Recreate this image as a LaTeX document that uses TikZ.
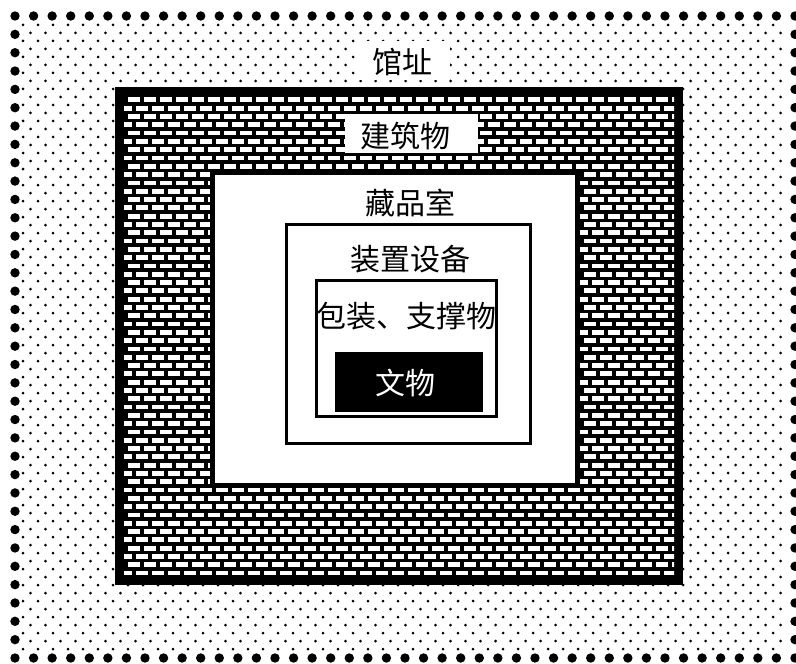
\documentclass[tikz,border=0pt]{standalone}
\usepackage{fontspec}
\newfontfamily\cjk{Noto Sans CJK SC}
\begin{document}
\begin{tikzpicture}[x=1bp,y=-1bp,
  lbl/.style={font=\cjk\fontsize{30bp}{30bp}\selectfont, inner sep=0pt, anchor=center},
  boxthin/.style={draw=black, line width=3bp, fill=white},
]
\useasboundingbox (0,0) rectangle (796,664);
\fill[white] (0,0) rectangle (796,664);
% small dot field
\foreach \r in {0,...,78}{
  \pgfmathsetmacro{\yy}{25+8*\r}
  \pgfmathsetmacro{\xo}{mod(\r,2)*7.5+23}
  \foreach \c in {0,...,50}{
    \fill (\xo+15*\c,\yy) circle[radius=1.5bp];
  }
}
% big dotted border
\foreach \i in {0,...,42}{
  \fill (15+18.571*\i,16) circle[radius=4.7bp];
  \fill (15+18.571*\i,658) circle[radius=4.7bp];
}
\foreach \i in {1,...,34}{
  \fill (15,16+18.343*\i) circle[radius=4.7bp];
  \fill (795,16+18.343*\i) circle[radius=4.7bp];
}
% site label
\fill[white] (355,41) rectangle (450,80);
\node[lbl] (site) at (402,62) {馆址};
% building with bricks
\fill[black] (115,87) rectangle (683,585);
\begin{scope}
  \clip (124,96) rectangle (674,576);
  \foreach \r in {0,...,58}{
    \pgfmathsetmacro{\yy}{97.5+8.3*\r}
    \pgfmathsetmacro{\xo}{mod(\r,2)*8+112}
    \foreach \c in {0,...,36}{
      \fill[white] (\xo+16*\c,\yy) rectangle ++(12,4.8);
    }
  }
\end{scope}
\fill[white] (345,114) rectangle (478,153);
\node[lbl] (bldg) at (405,136) {建筑物};
% storage room
\draw[line width=5bp, fill=white] (212.5,172.5) rectangle (577.5,485.5);
\node[lbl] (room) at (410,203) {藏品室};
% equipment
\draw[boxthin] (286.5,224.5) rectangle (530.5,443.5);
\node[lbl] (equip) at (410,259) {装置设备};
% packaging
\draw[boxthin] (316.5,280.5) rectangle (496.5,416.5);
\node[lbl] (pack) at (406,316) {包装、支撑物};
% object
\fill[black] (335,352) rectangle (483,412);
\node[lbl, text=white] (obj) at (405,383) {文物};
\end{tikzpicture}
\end{document}
